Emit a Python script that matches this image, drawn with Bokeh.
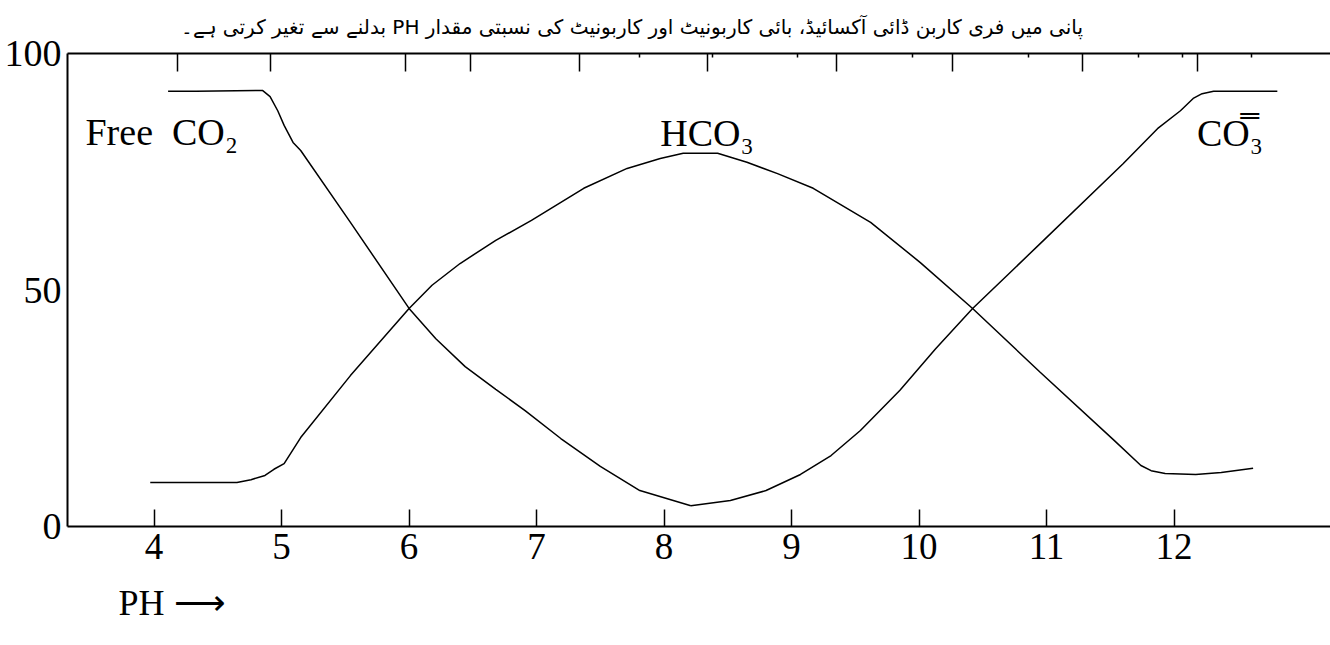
from bokeh.plotting import figure
from bokeh.models import (Range1d, LinearAxis, FixedTicker, Label, Title,
                          CustomJSTickFormatter)
from bokeh.embed import file_html
from bokeh.resources import INLINE

# ---------------- data ----------------
free_co2_ph = [4.11, 4.33, 4.85, 4.91, 4.97, 5.02, 5.09, 5.15, 5.54, 6.00,
               6.21, 6.44, 6.68, 6.91, 7.19, 7.50, 7.81, 8.21]
free_co2_pct = [92.0, 92.0, 92.2, 90.9, 87.9, 84.8, 81.2, 79.5, 64.3, 46.1,
                39.7, 33.8, 29.0, 24.5, 18.6, 12.7, 7.6, 4.4]

carbonate_ph = [8.21, 8.52, 8.80, 9.07, 9.31, 9.54, 9.85, 10.13, 10.42,
                10.95, 11.60, 11.87, 12.05, 12.15, 12.22, 12.31, 12.81]
carbonate_pct = [4.4, 5.5, 7.6, 11.0, 15.0, 20.3, 28.8, 37.6, 46.1,
                 59.8, 76.7, 84.1, 87.9, 90.5, 91.5, 92.0, 92.0]

bicarbonate_ph = [3.97, 4.65, 4.76, 4.87, 4.94, 5.02, 5.15, 5.54, 6.00, 6.18,
                  6.40, 6.68, 6.96, 7.37, 7.71, 7.97, 8.15, 8.42, 8.65, 8.89,
                  9.17, 9.62, 10.01, 10.42, 10.95, 11.53, 11.74, 11.82, 11.93,
                  12.17, 12.37, 12.62]
bicarbonate_pct = [9.3, 9.3, 9.9, 10.8, 12.1, 13.3, 18.8, 31.9, 46.1, 51.0,
                   55.6, 60.5, 64.7, 71.5, 75.7, 77.8, 78.9, 78.9, 77.0, 74.6,
                   71.5, 64.3, 55.8, 46.1, 32.6, 18.2, 12.9, 11.8, 11.2,
                   11.0, 11.4, 12.3]

x_ticks = [4, 5, 6, 7, 8, 9, 10, 11, 12]
y_ticks = [0, 50, 100]
top_major_ph = [4.18, 4.91, 5.97, 6.48, 7.34, 8.34, 9.35, 10.26, 11.28, 12.18]
top_minor_ph = [7.81, 8.38, 9.05, 9.95, 10.86, 11.72, 12.07, 12.61]

title_text = ("پانی میں فری کاربن ڈائی آکسائیڈ، بائی کاربونیٹ اور کاربونیٹ "
              "کی نسبتی مقدار PH بدلنے سے تغیر کرتی ہے۔")
label_free = "Free\u00a0\u00a0CO₂"
label_hco3 = "HCO₃"
label_co3 = "CO̿₃"
label_ph = "PH\u00a0⟶"

SERIF = "Liberation Serif"

# ---------------- figure ----------------
p = figure(width=1330, height=645, output_backend="svg", toolbar_location=None,
           x_range=Range1d(3.321, 13.227), y_range=Range1d(0, 100),
           min_border_left=67, min_border_right=0, min_border_top=53,
           min_border_bottom=119)
p.outline_line_color = None
p.xgrid.grid_line_color = None
p.ygrid.grid_line_color = None
p.background_fill_color = "white"
p.border_fill_color = "white"

# Urdu caption (title, above)
p.title.text = "\u202b" + title_text + "\u202c"
p.title.align = "left"
p.title.offset = 113
p.title.text_font = "DejaVu Sans"
p.title.text_font_size = "20px"
p.title.text_font_style = "normal"
p.title.text_color = "black"
p.title.vertical_align = "top"
p.title.standoff = 26

# bottom axis
xa = p.xaxis[0]
xa.ticker = FixedTicker(ticks=x_ticks, minor_ticks=[])
xa.axis_line_width = 2
xa.axis_line_color = "black"
xa.major_tick_in = 17
xa.major_tick_out = 0
xa.major_tick_line_width = 1.5
xa.major_tick_line_color = "black"
xa.major_label_standoff = 7
xa.major_label_text_font = SERIF
xa.major_label_text_font_size = "37px"
xa.major_label_text_color = "black"

# left axis
ya = p.yaxis[0]
ya.ticker = FixedTicker(ticks=y_ticks, minor_ticks=[])
ya.axis_line_width = 2
ya.axis_line_color = "black"
ya.major_tick_line_color = None
ya.major_tick_in = 0
ya.major_tick_out = 0
ya.major_label_standoff = 6
ya.major_label_text_font = SERIF
ya.major_label_text_font_size = "38px"
ya.major_label_text_color = "black"

# top border with irregular tick marks
ta = LinearAxis(ticker=FixedTicker(ticks=top_major_ph, minor_ticks=top_minor_ph),
                formatter=CustomJSTickFormatter(code="return ''"))
ta.axis_line_width = 2
ta.axis_line_color = "black"
ta.major_tick_in = 18
ta.major_tick_out = 0
ta.major_tick_line_width = 1.5
ta.major_tick_line_color = "black"
ta.minor_tick_in = 4
ta.minor_tick_out = 0
ta.minor_tick_line_width = 1.5
ta.minor_tick_line_color = "black"
ta.major_label_standoff = 0
ta.major_label_text_font_size = "1px"
p.add_layout(ta, "above")

# "PH ->" caption below the axis
p.add_layout(Title(text=label_ph, align="left", offset=51, standoff=38,
                   text_font=SERIF, text_font_size="36px",
                   text_font_style="normal", text_color="black"), "below")

# curves
p.line(free_co2_ph, free_co2_pct, line_color="black", line_width=1.5)
p.line(carbonate_ph, carbonate_pct, line_color="black", line_width=1.5)
p.line(bicarbonate_ph, bicarbonate_pct, line_color="black", line_width=1.5)

# species labels
for txt, x, y in [(label_free, 3.462, 83.3), (label_hco3, 7.97, 83.1),
                  (label_co3, 12.18, 83.1)]:
    p.add_layout(Label(x=x, y=y, text=txt, text_font=SERIF,
                       text_font_size="38px", text_color="black",
                       text_baseline="middle", text_align="left"))

open("out.html", "w").write(file_html(p, INLINE))
